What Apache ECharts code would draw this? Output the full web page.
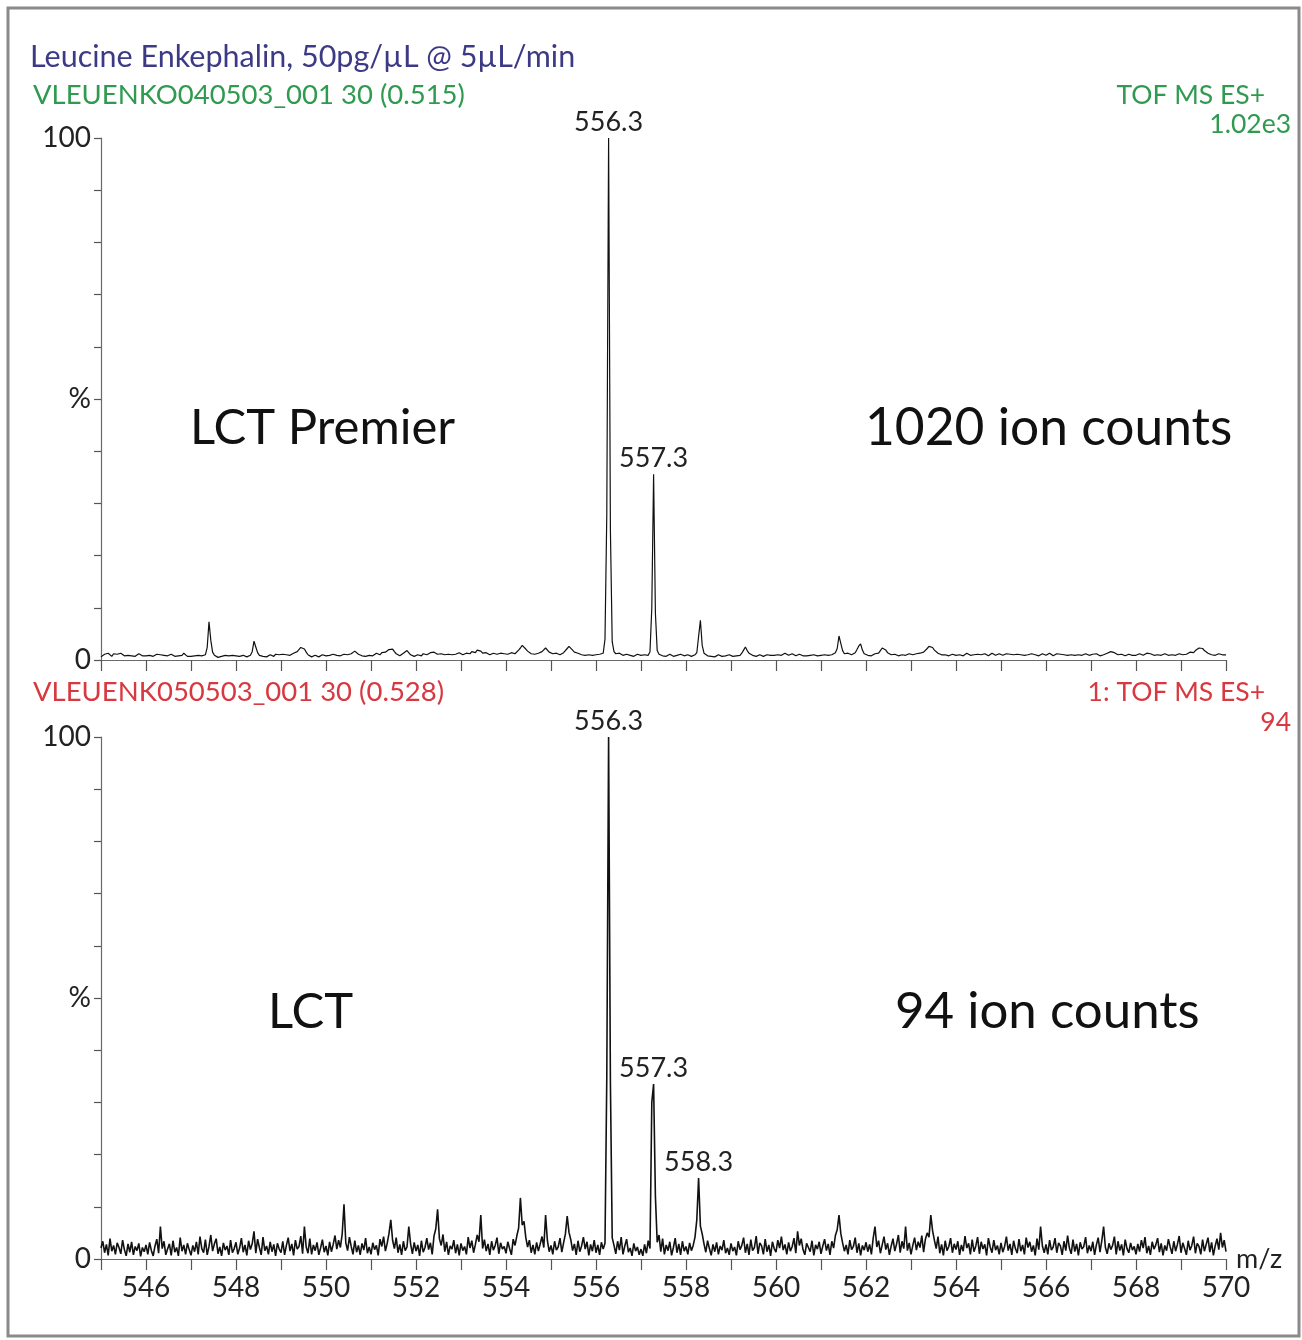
<!DOCTYPE html>
<html>
<head>
<meta charset="utf-8">
<script src="https://cdn.jsdelivr.net/npm/echarts@6/dist/echarts.min.js"></script>
<style>
html,body{margin:0;padding:0;background:#fff;}
#chart{width:1302px;height:1340px;}
</style>
</head>
<body>
<div id="chart"></div>
<script>
// m/z grid of the two spectra
const mzStart = 545;
const mzStep = 0.04;
const mzMin = 545, mzMax = 570;

// x tick labels shown on the bottom axis
const xTickLabels = [546, 548, 550, 552, 554, 556, 558, 560, 562, 564, 566, 568, 570];
// y tick labels
const yTickLabels = { 0: '0', 50: '%', 100: '100' };

// LCT Premier spectrum, relative intensity (%), one row per m/z unit
const premierIntensity = [
0.6,0.9,1.1,0.8,1.3,1.0,0.7,1.2,1.5,1.1,0.9,1.3,1.0,0.8,0.6,0.9,1.1,0.8,1.0,0.7,0.9,1.2,1.0,0.8,0.7,
0.8,0.6,0.9,1.0,0.7,0.9,1.1,0.8,1.0,1.2,0.9,0.7,0.8,1.0,1.1,0.9,0.7,0.6,0.8,1.0,0.9,1.3,1.6,0.7,0.9,
0.7,0.9,0.8,0.6,0.9,1.0,0.8,0.7,1.0,2.4,7.3,3.8,1.5,0.9,0.6,0.5,0.8,0.7,0.6,0.9,1.0,0.8,0.7,0.9,1.1,
0.8,0.6,0.7,0.5,0.9,0.8,0.6,0.7,0.9,1.6,3.6,2.5,1.4,0.9,0.6,0.7,0.8,0.6,0.9,1.0,0.8,0.7,1.1,1.2,1.0,
0.9,1.1,0.8,1.0,1.2,0.9,1.1,1.3,1.2,1.6,1.9,2.4,2.7,2.1,1.5,1.0,0.8,0.6,0.7,0.9,0.8,0.6,0.8,1.0,0.9,
0.8,1.0,0.9,0.7,1.1,1.2,0.9,1.0,0.8,0.9,1.1,1.3,1.0,0.8,1.2,1.5,1.7,1.4,1.1,0.9,0.8,1.0,0.7,0.6,0.9,
1.0,0.8,1.1,1.3,1.2,1.0,1.4,1.6,1.5,1.8,2.0,2.3,2.1,1.6,1.2,1.0,0.8,1.1,1.3,1.2,1.8,1.5,1.0,0.8,0.7,
0.9,1.0,1.1,0.8,1.2,1.3,1.0,1.1,1.4,1.2,1.5,1.3,1.1,1.4,1.2,0.9,1.0,1.3,1.1,0.8,1.0,1.2,1.1,1.3,1.4,
1.2,1.0,1.1,1.3,1.5,1.2,1.6,1.8,1.4,1.9,2.0,1.7,1.3,1.5,1.4,1.2,1.0,1.1,1.3,1.2,1.1,1.4,1.3,1.1,1.2,
1.3,1.1,1.2,1.4,1.3,1.2,1.5,1.9,2.3,2.8,2.6,2.1,1.7,1.4,1.2,1.3,1.1,1.4,1.3,1.5,1.6,1.9,2.3,2.0,1.5,
1.3,1.2,1.1,1.3,1.2,1.0,1.1,1.4,1.7,2.2,2.6,2.4,1.9,1.5,1.2,1.3,1.1,1.0,1.2,0.9,0.8,1.0,1.1,0.9,1.0,
1.0,0.9,1.1,0.8,1.3,4.0,28,100,25,3.5,1.6,1.2,1.1,1.3,1.0,0.9,1.2,1.1,0.8,0.9,1.0,0.7,0.8,1.1,0.9,
0.9,0.8,1.0,1.1,0.9,1.6,10,35.6,9,1.8,1.1,0.9,0.8,1.0,0.7,0.9,1.1,0.8,0.7,1.0,0.9,0.8,1.1,0.9,0.8,
0.9,1.0,0.8,0.7,0.9,1.0,1.4,4.5,7.6,2.8,1.3,1.0,0.8,0.9,0.7,0.8,0.6,0.9,1.0,0.8,0.7,0.9,0.8,0.7,1.0,
0.8,0.7,0.9,0.8,1.0,0.9,1.3,1.9,2.5,1.8,1.3,1.1,0.9,0.8,0.7,0.9,1.0,0.8,0.7,0.9,1.0,0.8,0.9,1.1,0.9,
0.8,1.0,1.2,0.9,1.1,1.3,1.0,0.9,1.1,1.2,1.0,0.8,0.9,1.1,1.0,0.8,0.9,0.8,0.7,0.9,0.8,1.0,0.7,0.8,0.9,
0.9,0.8,1.0,0.7,0.9,0.8,1.0,1.1,1.4,2.2,4.6,3.2,1.8,1.2,1.0,1.3,1.1,1.0,1.2,1.4,2.0,2.7,3.1,1.9,1.2,
1.0,0.9,1.1,0.8,1.0,1.2,1.1,1.3,1.8,2.3,2.6,1.9,1.4,1.2,1.0,0.9,1.1,1.0,0.8,0.9,1.0,1.1,0.9,1.0,1.2,
1.1,1.0,0.9,1.2,1.1,1.3,1.2,1.5,1.8,2.2,2.6,2.9,2.4,1.9,1.6,1.3,1.1,1.0,0.9,1.0,1.2,0.8,0.9,1.1,1.0,
0.9,1.1,1.0,1.2,0.8,1.0,1.3,1.1,0.9,1.2,1.0,0.8,1.1,1.3,1.0,0.9,1.2,1.1,0.8,1.0,1.3,1.1,0.9,1.0,1.2,
1.1,0.9,1.0,1.2,1.4,1.1,0.9,1.0,1.3,1.1,0.8,1.0,1.2,0.9,1.1,1.0,1.3,1.2,0.9,1.0,1.1,0.8,1.0,1.2,1.1,
0.9,1.1,1.3,1.0,0.8,1.0,1.2,0.9,1.1,1.3,1.0,1.2,0.9,0.8,1.0,1.1,0.9,1.2,1.0,1.1,0.9,1.0,1.2,1.1,0.9,
1.0,1.1,0.9,1.2,1.0,0.8,1.1,1.0,1.2,1.3,1.4,1.6,1.7,1.4,1.2,1.0,0.9,1.1,1.0,0.8,0.9,1.1,1.0,0.9,1.0,
0.9,1.0,1.2,1.1,0.9,1.0,1.3,1.5,1.2,1.0,0.9,1.1,1.0,0.8,0.9,1.1,1.2,1.0,0.9,0.8,1.0,1.1,0.9,1.0,1.2,
1.1,1.0,0.9,1.1,1.3,1.5,1.6,1.4,1.8,2.1,2.3,2.0,2.2,1.8,1.5,1.3,1.2,1.0,1.1,0.9,1.0,1.2,1.1,1.0,0.9,
1.0
];

// LCT spectrum, relative intensity (%), one row per m/z unit
const lctIntensity = [
2.1,3.4,1.2,2.8,0.7,3.9,1.5,2.6,0.9,3.1,2.2,1.0,3.6,1.8,0.6,2.9,1.3,3.3,0.8,2.4,1.6,3.0,0.5,2.2,1.4,
2.7,0.9,3.2,1.6,0.6,2.5,3.8,1.1,6.2,2.0,3.4,0.8,1.9,2.9,0.7,3.5,1.3,2.2,0.6,4.1,1.5,2.7,0.9,3.0,1.8,
0.7,2.6,1.4,3.3,0.9,4.3,2.0,1.2,3.7,0.8,2.4,4.6,1.5,2.9,3.9,1.0,2.3,0.6,3.1,1.7,2.5,0.8,3.6,1.2,2.0,
3.2,0.9,2.1,4.0,1.3,2.7,0.7,3.5,1.8,2.9,5.3,1.1,3.8,2.2,0.8,4.2,1.6,2.5,0.9,3.3,1.4,2.8,0.6,3.0,1.9,
1.2,3.4,0.8,2.6,4.1,1.5,2.9,0.7,3.6,1.9,2.4,4.4,1.0,6.2,2.3,1.1,3.9,0.9,2.7,1.6,3.2,0.8,2.1,3.7,1.3,
2.5,0.7,3.3,1.4,2.8,4.5,1.9,3.6,2.2,4.8,10.5,3.1,1.6,4.2,2.4,0.9,3.5,1.3,2.6,0.8,3.0,1.7,4.0,1.1,2.3,
0.9,3.1,1.8,2.6,0.7,3.8,2.4,4.3,1.5,3.0,4.9,7.5,3.6,2.0,4.1,1.2,2.8,0.8,3.4,1.6,2.3,6.2,2.9,1.0,3.2,
1.5,2.7,0.6,3.5,1.3,2.2,4.0,1.8,3.1,0.9,4.4,5.8,9.5,3.9,2.6,4.7,1.4,3.3,0.8,2.5,1.9,3.6,1.1,2.8,0.7,
3.0,1.6,2.4,0.9,4.2,2.1,3.5,1.2,2.8,4.6,3.3,8.4,2.0,3.7,1.5,2.9,0.8,3.4,1.7,2.6,4.1,1.0,3.1,1.9,2.4,
1.1,3.3,2.0,0.8,3.8,2.6,4.4,5.9,11.7,6.5,7.2,4.1,2.3,3.6,1.2,2.7,0.9,3.2,1.5,2.9,4.3,2.2,8.4,3.5,1.4,
2.6,0.9,3.4,1.7,2.3,4.0,1.3,3.1,4.8,8.2,5.1,3.7,1.6,2.9,0.8,3.5,1.4,2.5,4.2,1.9,3.3,0.7,2.8,1.5,3.6,
1.2,2.7,0.8,3.2,1.9,3.0,35,100,34,4.1,2.6,1.0,3.4,1.7,4.2,0.9,2.5,3.8,1.3,2.1,0.6,3.0,1.5,2.3,0.8,
1.9,0.6,2.8,1.1,3.5,2.0,30,33.5,12,3.2,4.6,1.4,3.9,0.9,2.7,1.6,3.3,0.7,2.2,4.0,1.2,2.9,0.8,3.4,1.5,
2.4,0.9,3.1,1.6,2.6,4.2,7.5,15.5,6.3,4.8,2.9,1.3,3.5,2.0,0.7,2.8,1.4,3.2,0.9,2.5,1.7,3.6,1.1,2.1,0.8,
3.0,1.5,2.3,0.7,3.4,1.8,2.6,4.1,1.2,2.9,0.8,3.7,1.6,2.2,4.4,1.0,3.1,2.5,0.9,3.8,1.4,2.7,0.6,3.3,2.0,
1.3,3.6,2.1,4.3,1.7,2.8,0.9,3.2,1.5,2.4,4.0,1.1,5.3,2.6,3.9,1.8,0.8,3.0,2.2,1.4,3.5,0.7,2.7,1.9,3.3,
1.0,2.5,3.8,1.6,2.9,0.8,3.4,2.1,4.5,5.6,8.4,4.9,3.1,1.5,2.7,0.9,3.6,1.8,2.4,4.1,1.2,3.0,0.7,2.6,1.7,
3.2,1.4,2.8,0.9,4.0,6.2,2.3,3.5,1.1,2.7,4.3,1.8,3.0,0.8,2.5,3.9,1.5,2.9,4.6,1.2,3.4,2.0,6.2,1.6,3.1,
0.9,2.6,4.1,1.7,3.3,2.2,4.5,1.3,3.8,5.0,4.2,8.4,5.4,3.6,2.0,4.3,1.1,2.8,0.7,3.5,1.6,2.4,4.0,1.2,2.9,
1.8,3.4,0.8,2.7,1.5,4.4,2.1,3.0,0.9,3.7,1.4,2.5,4.2,1.0,3.3,1.9,2.8,0.7,4.0,2.3,1.2,3.6,1.7,2.6,0.9,
3.1,1.3,2.4,4.3,1.6,2.9,0.8,3.5,2.0,1.1,3.8,1.5,2.7,0.9,4.1,2.2,3.3,1.4,2.6,0.7,3.9,1.8,6.2,2.5,1.2,
2.8,0.9,3.6,1.7,2.3,4.0,1.2,3.1,2.5,0.8,3.4,1.6,4.5,2.1,1.0,3.7,1.4,2.9,0.7,3.2,1.9,2.4,4.2,1.1,2.6,
1.5,3.3,0.8,2.7,4.1,1.3,3.5,6.2,2.2,1.0,3.0,1.8,2.6,4.3,0.9,3.4,1.6,2.8,0.7,3.7,2.0,1.2,3.1,1.7,2.4,
0.9,2.9,1.4,3.6,2.1,4.2,1.1,2.5,0.8,3.3,1.9,2.7,4.0,1.3,3.0,0.7,2.6,1.6,3.8,2.3,1.0,3.4,1.5,2.8,4.4,
1.2,3.1,2.0,0.8,3.5,1.7,2.6,4.3,1.1,3.0,2.4,0.9,3.7,1.5,2.8,4.1,1.3,3.2,0.7,2.5,3.9,1.8,5.0,2.2,3.6,
1.4
];

// annotated peaks: [m/z position, intensity, label]
const premierPeaks = [[556.28, 100, '556.3'], [557.28, 35.6, '557.3']];
const lctPeaks = [[556.28, 100, '556.3'], [557.28, 33.5, '557.3'], [558.28, 15.5, '558.3']];

function toPairs(arr) {
  return arr.map((v, i) => [+(mzStart + i * mzStep).toFixed(2), v]);
}

const FONT = 'Lato';
const chart = echarts.init(document.getElementById('chart'), null, { renderer: 'canvas' });

function xAxisCfg(gridIndex, showLabels) {
  return {
    type: 'value', gridIndex, min: mzMin, max: mzMax, interval: 1,
    axisLine: { show: true, onZero: false, lineStyle: { color: '#6a6a6a', width: 1.2 } },
    axisTick: { show: true, inside: false, length: 11, lineStyle: { color: '#555', width: 1.2 } },
    splitLine: { show: false },
    axisLabel: {
      show: showLabels, margin: 15, color: '#222', fontFamily: FONT, fontSize: 28,
      formatter: v => (xTickLabels.indexOf(Math.round(v)) >= 0 ? String(Math.round(v)) : '')
    },
    name: showLabels ? 'm/z' : '',
    nameLocation: 'end', nameGap: 10,
    nameTextStyle: { color: '#222', fontFamily: FONT, fontSize: 27, verticalAlign: 'bottom', padding: [0, 0, -14, 0] }
  };
}
function yAxisCfg(gridIndex) {
  return {
    type: 'value', gridIndex, min: 0, max: 100, interval: 10,
    axisLine: { show: true, lineStyle: { color: '#6a6a6a', width: 1.2 } },
    axisTick: { show: true, inside: false, length: 7, lineStyle: { color: '#555', width: 1.2 } },
    splitLine: { show: false },
    axisLabel: {
      margin: 10, color: '#222', fontFamily: FONT, fontSize: 28,
      formatter: v => (yTickLabels[v] !== undefined ? yTickLabels[v] : '')
    }
  };
}
function peakMarks(peaks) {
  return {
    symbol: 'circle', symbolSize: 1, silent: true,
    itemStyle: { color: 'rgba(0,0,0,0)' },
    label: { show: true, position: 'top', distance: 2, formatter: '{b}', color: '#222', fontFamily: FONT, fontSize: 27 },
    data: peaks.map(p => ({ name: p[2], coord: [p[0], p[1]] }))
  };
}

const textStyle = (t, x, y, size, color, align) => ({
  type: 'text', x, y,
  style: { text: t, fill: color, font: `${size}px ${FONT}`, textAlign: align || 'left', textVerticalAlign: 'middle' }
});

chart.setOption({
  animation: false,
  backgroundColor: '#fff',
  grid: [
    { left: 101, width: 1125, top: 138, height: 522 },
    { left: 101, width: 1125, top: 737, height: 522 }
  ],
  xAxis: [xAxisCfg(0, false), xAxisCfg(1, true)],
  yAxis: [yAxisCfg(0), yAxisCfg(1)],
  series: [
    {
      type: 'line', xAxisIndex: 0, yAxisIndex: 0, data: toPairs(premierIntensity),
      showSymbol: false, symbol: 'none', sampling: null,
      lineStyle: { color: '#111', width: 1.2 },
      markPoint: peakMarks(premierPeaks)
    },
    {
      type: 'line', xAxisIndex: 1, yAxisIndex: 1, data: toPairs(lctIntensity),
      showSymbol: false, symbol: 'none', sampling: null,
      lineStyle: { color: '#111', width: 1.6 },
      markPoint: peakMarks(lctPeaks)
    }
  ],
  graphic: [
    { type: 'rect', shape: { x: 8, y: 8, width: 1291, height: 1328 }, style: { fill: 'none', stroke: '#8a8a8a', lineWidth: 3 } },
    textStyle('Leucine Enkephalin, 50pg/µL @ 5µL/min', 30, 57, 30.5, '#3d3a85'),
    textStyle('VLEUENKO040503_001 30 (0.515)', 33, 95, 27.5, '#2f9a50'),
    textStyle('TOF MS ES+', 1265, 95, 26.5, '#2f9a50', 'right'),
    textStyle('1.02e3', 1291, 124, 26.5, '#2f9a50', 'right'),
    textStyle('LCT Premier', 190, 428, 49, '#111'),
    textStyle('1020 ion counts', 865, 428, 51.5, '#111'),
    textStyle('VLEUENK050503_001 30 (0.528)', 33, 692, 27.5, '#d8383f'),
    textStyle('1: TOF MS ES+', 1265, 692, 26.5, '#d8383f', 'right'),
    textStyle('94', 1291, 722, 26.5, '#d8383f', 'right'),
    textStyle('LCT', 268, 1012, 49, '#111'),
    textStyle('94 ion counts', 895, 1012, 51, '#111')
  ]
});
</script>
</body>
</html>
